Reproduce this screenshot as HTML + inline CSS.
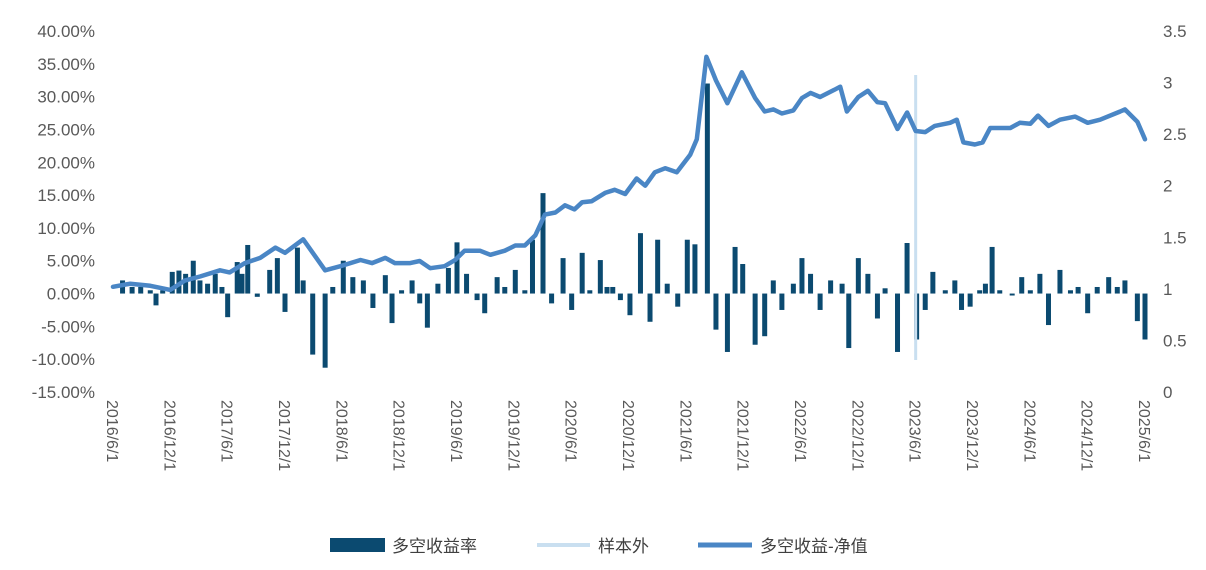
<!DOCTYPE html>
<html><head><meta charset="utf-8">
<style>
body{margin:0;background:#fff;}
svg{display:block;font-family:"Liberation Sans","Noto Sans CJK SC",sans-serif;}
</style></head>
<body>
<svg id="chart" width="1206" height="570" viewBox="0 0 1206 570" xmlns="http://www.w3.org/2000/svg">
<g id="axes"></g><g id="bars"></g><g id="oos"></g><g id="line"></g>
<g id="legend">
<rect x="330" y="538" width="55" height="14" fill="#0b4a70"/>
<text x="392" y="552" font-size="17" fill="#404040">多空收益率</text>
<line x1="537" y1="545" x2="590" y2="545" stroke="#c9dff0" stroke-width="4"/>
<text x="598" y="552" font-size="17" fill="#404040">样本外</text>
<line x1="698" y1="545" x2="752" y2="545" stroke="#4a86c5" stroke-width="5"/>
<text x="760" y="552" font-size="17" fill="#404040">多空收益-净值</text>
</g>
</svg>
<script>
const leftTicks=[40,35,30,25,20,15,10,5,0,-5,-10,-15];
const rightTicks=[3.5,3,2.5,2,1.5,1,0.5,0];
const xLabels=["2016/6/1","2016/12/1","2017/6/1","2017/12/1","2018/6/1","2018/12/1","2019/6/1","2019/12/1","2020/6/1","2020/12/1","2021/6/1","2021/12/1","2022/6/1","2022/12/1","2023/6/1","2023/12/1","2024/6/1","2024/12/1","2025/6/1"];
// bar dates in months since 2016/6/1
const barMonths=[1.0,2.0,2.9,3.9,4.5,5.2,6.2,6.9,7.6,8.4,9.1,9.9,10.7,11.4,12.0,13.0,13.5,14.1,15.1,16.4,17.2,18.0,19.3,19.9,20.9,22.2,23.0,24.1,25.1,26.2,27.2,28.5,29.2,30.2,31.3,32.1,32.9,34.0,35.1,36.0,37.0,38.1,38.9,40.2,41.0,42.1,43.1,43.9,45.0,45.9,47.1,48.0,49.1,49.9,51.0,51.7,52.3,53.1,54.1,55.2,56.2,57.0,58.0,59.1,60.1,60.9,62.2,63.1,64.3,65.1,65.9,67.2,68.2,69.1,70.0,71.2,72.1,73.0,74.0,75.1,76.3,77.0,78.0,79.0,80.0,80.8,82.1,83.1,84.1,85.0,85.8,87.1,88.1,88.8,89.7,90.7,91.3,92.0,92.8,94.1,95.1,96.0,97.0,97.9,99.1,100.2,101.0,102.0,103.0,104.2,105.1,105.9,107.2,108.0];
const barValues=[2,1,1,0.5,-1.8,0.5,3.3,3.5,3,5,2,1.5,3,1,-3.6,4.8,3,7.4,-0.5,3.6,5.4,-2.8,7,2,-9.3,-11.3,1,5,2.5,2,-2.2,2.8,-4.5,0.5,2,-1.5,-5.2,1.5,3.9,7.8,3,-1,-3,2.5,1,3.6,0.5,8.2,15.3,-1.5,5.4,-2.5,6.2,0.5,5.1,1,1,-1,-3.3,9.2,-4.3,8.2,1.5,-2,8.2,7.5,32,-5.5,-8.9,7.1,4.5,-7.8,-6.5,2,-2.5,1.5,5.4,3,-2.5,2,1.5,-8.3,5.4,3,-3.8,0.8,-8.9,7.7,-7,-2.5,3.3,0.5,2,-2.5,-2,0.5,1.5,7.1,0.5,-0.3,2.5,0.5,3,-4.8,3.6,0.5,1,-3,1,2.5,1,2,-4.2,-7];
const navMonths=[0,1.8,3.9,6.0,7.5,9.1,11.2,12.2,13.8,15.4,17.0,18.0,19.9,22.2,23.8,25.9,27.1,28.5,29.5,31.1,32.1,33.2,34.7,35.8,36.8,38.4,39.5,41.0,42.1,43.1,44.2,45.2,46.3,47.3,48.3,49.1,50.1,51.5,52.5,53.6,54.8,55.7,56.7,57.8,59.0,60.4,61.1,62.1,63.1,64.3,65.8,67.2,68.2,69.1,70.0,71.2,72.1,73.0,74.0,75.5,76.1,76.8,78.0,79.0,80.0,80.8,82.1,83.1,84.0,85.0,86.0,87.6,88.3,89.0,90.2,91.0,91.8,93.9,94.9,96.0,96.8,97.9,99.1,100.7,102.0,103.3,105.4,105.9,107.2,108.0];
const navValues=[1.02,1.05,1.03,0.99,1.08,1.12,1.18,1.16,1.25,1.3,1.4,1.35,1.48,1.18,1.22,1.28,1.25,1.3,1.25,1.25,1.27,1.2,1.22,1.28,1.37,1.37,1.33,1.37,1.42,1.42,1.52,1.72,1.74,1.81,1.77,1.84,1.85,1.93,1.96,1.92,2.07,2.0,2.13,2.17,2.13,2.3,2.45,3.25,3.02,2.8,3.1,2.85,2.72,2.74,2.7,2.73,2.85,2.9,2.86,2.93,2.96,2.72,2.86,2.92,2.81,2.8,2.55,2.71,2.53,2.52,2.58,2.61,2.64,2.42,2.4,2.42,2.56,2.56,2.61,2.6,2.68,2.58,2.64,2.67,2.61,2.64,2.72,2.74,2.62,2.45];
const oosMonth=84;

const NS="http://www.w3.org/2000/svg";
const X0=113,X1=1145,Y0=392,Ytop=31,MONTHS=108;
const yL=v=>Y0-(v+15)/55*(Y0-Ytop);
const yR=v=>Y0-v/3.5*(Y0-Ytop);
const xM=m=>X0+m*(X1-X0)/MONTHS;
function mk(tag,attrs,parent){const e=document.createElementNS(NS,tag);for(const k in attrs)e.setAttribute(k,attrs[k]);document.getElementById(parent).appendChild(e);return e;}
leftTicks.forEach(v=>{const t=mk('text',{x:95,y:yL(v)+6,'text-anchor':'end','font-size':17,fill:'#595959'},'axes');


t.textContent=v.toFixed(2)+'%';});
rightTicks.forEach(v=>{const t=mk('text',{x:1163,y:yR(v)+6,'font-size':17,fill:'#595959'},'axes');


t.textContent=String(v);});
xLabels.forEach((s,i)=>{const x=xM(i*6);const t=mk('text',{x:0,y:0,'font-size':16,fill:'#595959',transform:`translate(${x-6},400) rotate(90)`},'axes');


t.textContent=s;});
barValues.forEach((v,i)=>{const x=xM(barMonths[i]);const y1=yL(Math.max(v,0)),y2=yL(Math.min(v,0));
const r=mk('rect',{x:x-2.5,y:y1,width:5,height:Math.max(y2-y1,1.5),fill:'#0b4a70'},'bars');

});
const ox=xM(oosMonth);
const ol=mk('line',{x1:ox,y1:75,x2:ox,y2:360,stroke:'#c9dff0','stroke-width':3},'oos');


const pts=navValues.map((v,i)=>xM(navMonths[i]).toFixed(1)+','+yR(v).toFixed(1)).join(' ');
const pl=mk('polyline',{points:pts,fill:'none',stroke:'#4a86c5','stroke-width':4.5,'stroke-linejoin':'round','stroke-linecap':'round'},'line');


</script>
</body></html>
